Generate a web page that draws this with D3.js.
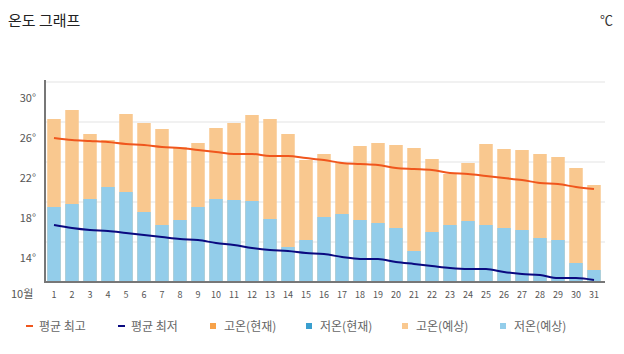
<!DOCTYPE html>
<html><head><meta charset="utf-8">
<script src="https://cdn.jsdelivr.net/npm/d3@7"></script>
<style>
html,body{margin:0;padding:0;background:#fff;}
svg{display:block;font-family:"Noto Sans CJK KR","Noto Sans",sans-serif;}
</style></head>
<body><svg id="c" width="624" height="354"></svg>
<script>
const days = d3.range(1, 32);
const highForecast = [28.3, 29.2, 26.8, 26.2, 28.8, 27.9, 27.3, 25.5, 25.9, 27.4, 27.9, 28.7, 28.3, 26.8, 24.2, 24.8, 23.9, 25.6, 25.9, 25.7, 25.4, 24.3, 22.8, 23.9, 25.8, 25.3, 25.2, 24.8, 24.5, 23.4, 21.7];
const lowForecast = [19.5, 19.8, 20.3, 21.5, 21.0, 19.0, 17.7, 18.2, 19.5, 20.3, 20.2, 20.1, 18.3, 15.5, 16.2, 18.5, 18.8, 18.2, 17.9, 17.4, 15.1, 17.0, 17.7, 18.1, 17.7, 17.4, 17.2, 16.4, 16.2, 13.9, 13.2];
const avgHigh = [26.4, 26.2, 26.1, 26.0, 25.8, 25.7, 25.5, 25.4, 25.2, 25.0, 24.8, 24.8, 24.6, 24.6, 24.4, 24.2, 23.9, 23.8, 23.7, 23.4, 23.3, 23.2, 22.9, 22.8, 22.6, 22.4, 22.2, 21.9, 21.8, 21.5, 21.3];
const avgLow = [17.7, 17.4, 17.2, 17.1, 16.9, 16.7, 16.5, 16.3, 16.2, 15.9, 15.7, 15.4, 15.2, 15.1, 14.9, 14.8, 14.5, 14.3, 14.3, 14.0, 13.8, 13.6, 13.4, 13.3, 13.3, 13.0, 12.8, 12.7, 12.4, 12.4, 12.2];
const yTickLabels = [14, 18, 22, 26, 30];
const gridValues = [16, 20, 24, 28, 32];
const monthLabel = "10월";
const legendItems = [
  {label: "평균 최고", type: "line", color: "#f0561d"},
  {label: "평균 최저", type: "line", color: "#0a0a80"},
  {label: "고온(현재)", type: "rect", color: "#f7a24a"},
  {label: "저온(현재)", type: "rect", color: "#3a9fcf"},
  {label: "고온(예상)", type: "rect", color: "#f9c88f"},
  {label: "저온(예상)", type: "rect", color: "#93cdea"}
];

const svg = d3.select("#c");
const x = d3.scaleBand().domain(days).range([45, 603]).paddingInner(0.25).paddingOuter(0.125);
const y = d3.scaleLinear().domain([12, 32]).range([282, 82]);

// title
svg.append("text").attr("x", 8).attr("y", 26).attr("font-size", 15).attr("fill", "#222").text("온도 그래프");
svg.append("text").attr("x", 613).attr("y", 25).attr("text-anchor", "end").attr("font-size", 13).attr("fill", "#333").text("℃");

// grid
svg.append("g").selectAll("line").data(gridValues).join("line")
  .attr("x1", 45).attr("x2", 605).attr("y1", d => y(d)).attr("y2", d => y(d))
  .attr("stroke", "#ececec").attr("stroke-width", 1.5);

// bars
svg.append("g").selectAll("rect").data(days).join("rect")
  .attr("x", d => x(d)).attr("width", x.bandwidth())
  .attr("y", (d, i) => y(highForecast[i])).attr("height", (d, i) => y(12) - y(highForecast[i]))
  .attr("fill", "#f9c88f");
svg.append("g").selectAll("rect").data(days).join("rect")
  .attr("x", d => x(d)).attr("width", x.bandwidth())
  .attr("y", (d, i) => y(lowForecast[i])).attr("height", (d, i) => y(12) - y(lowForecast[i]))
  .attr("fill", "#93cdea");

// lines
const line = arr => d3.line().x((d, i) => x(days[i]) + x.bandwidth() / 2).y(d => y(d)).curve(d3.curveMonotoneX)(arr);
svg.append("path").attr("d", line(avgHigh)).attr("fill", "none").attr("stroke", "#f0561d").attr("stroke-width", 2);
svg.append("path").attr("d", line(avgLow)).attr("fill", "none").attr("stroke", "#0a0a80").attr("stroke-width", 2);

// axes lines
svg.append("line").attr("x1", 45).attr("x2", 45).attr("y1", 80).attr("y2", 283).attr("stroke", "#777").attr("stroke-width", 2);
svg.append("line").attr("x1", 44).attr("x2", 605).attr("y1", 282).attr("y2", 282).attr("stroke", "#777").attr("stroke-width", 2);

// y labels
svg.append("g").selectAll("text").data(yTickLabels).join("text")
  .attr("x", 36).attr("y", d => y(d)).attr("text-anchor", "end")
  .attr("font-size", 11).attr("fill", "#555").text(d => d + "°");

// x labels
svg.append("text").attr("x", 11).attr("y", 298).attr("font-size", 11).attr("fill", "#555").text(monthLabel);
svg.append("g").selectAll("text").data(days).join("text")
  .attr("x", d => x(d) + x.bandwidth() / 2).attr("y", 298).attr("text-anchor", "middle")
  .attr("font-size", 9).attr("fill", "#555").text(d => d);

// legend
const lx = [26, 118, 210, 306, 402, 500];
const lg = svg.append("g").selectAll("g").data(legendItems).join("g")
  .attr("transform", (d, i) => `translate(${lx[i]},326)`);
lg.filter(d => d.type === "line").append("line").attr("x1", 0).attr("x2", 7).attr("y1", 0).attr("y2", 0)
  .attr("stroke", d => d.color).attr("stroke-width", 2);
lg.filter(d => d.type === "rect").append("rect").attr("x", 0).attr("y", -3).attr("width", 6).attr("height", 6)
  .attr("fill", d => d.color);
lg.append("text").attr("x", d => d.type === "line" ? 13 : 14).attr("y", 4.5).attr("font-size", 12).attr("fill", "#666").text(d => d.label);
</script></body></html>
